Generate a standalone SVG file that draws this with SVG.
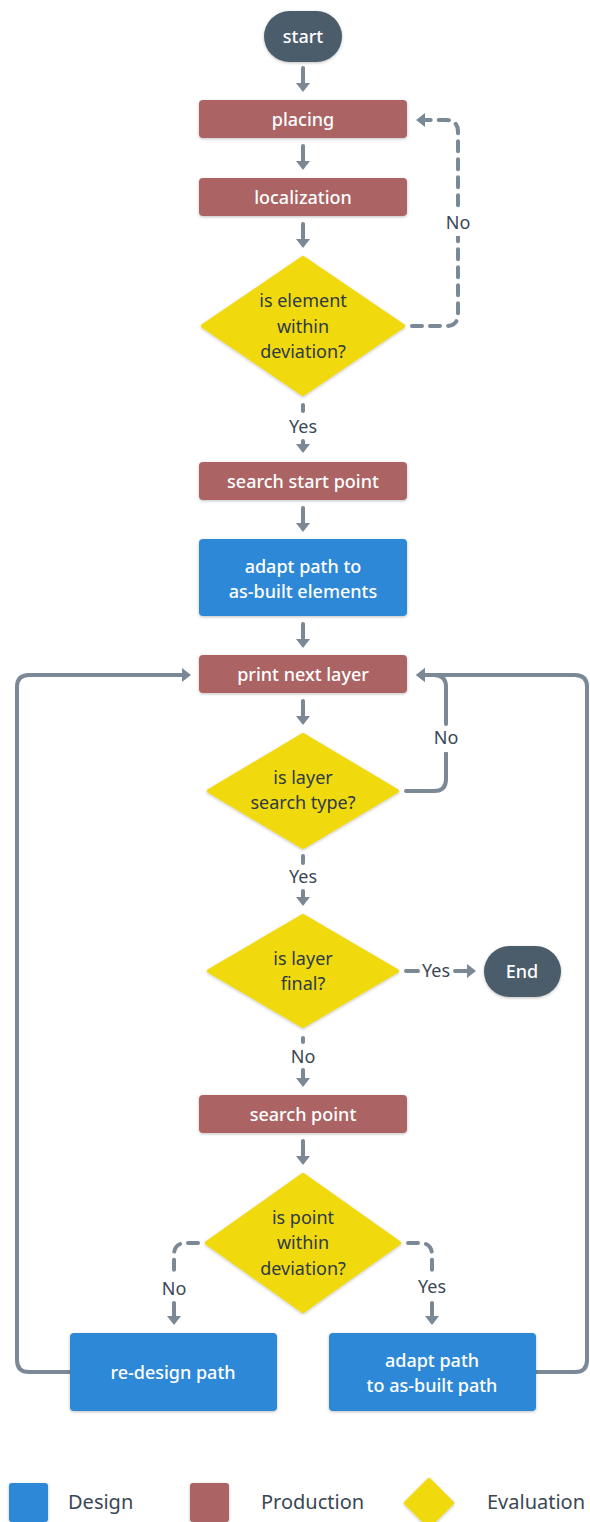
<svg xmlns="http://www.w3.org/2000/svg" width="590" height="1522" viewBox="0 0 590 1522">
<style>
.prod{fill:#ab6464}
.design{fill:#2d88d8}
.term{fill:#4b5c6b}
.eval{fill:#f0d90b;stroke:#f0d90b;stroke-width:4;stroke-linejoin:round}
.sh{filter:url(#shadow)}
.wt{font-family:"Noto Sans","Liberation Sans",sans-serif;font-size:18px;fill:#ffffff;font-weight:500;text-anchor:middle}
.dt{font-family:"Noto Sans","Liberation Sans",sans-serif;font-size:18px;fill:#2e3a46;text-anchor:middle}
.lbl{font-family:"Noto Sans","Liberation Sans",sans-serif;font-size:18px;fill:#3a4754;text-anchor:middle}
.leg{font-family:"Noto Sans","Liberation Sans",sans-serif;font-size:20px;fill:#3a4754}
.c{fill:none;stroke:#7b8896;stroke-width:4;stroke-linecap:round;stroke-linejoin:round}
.a{marker-end:url(#ah)}
.d{stroke-dasharray:10 8}
</style>
<defs>
<filter id="shadow" x="-10%" y="-10%" width="120%" height="130%">
<feDropShadow dx="0" dy="1" stdDeviation="1.5" flood-color="#000" flood-opacity="0.25"/>
</filter>
<marker id="ah" markerUnits="userSpaceOnUse" markerWidth="12" markerHeight="16" refX="5" refY="7" orient="auto" viewBox="0 0 12 16">
<path d="M0,0 L9,7 L0,14 z" fill="#7b8896"/>
</marker>
</defs>

<g id="connectors">
<path class="c a" d="M303,68 V88"/>
<path class="c a" d="M303,146 V166"/>
<path class="c a" d="M303,224 V244"/>
<path class="c a d" d="M412,326 H446 Q458,326 458,314 V132 Q458,120 446,120 H420"/>
<path class="c" d="M303,405 V411"/>
<path class="c a" d="M303,441 V449"/>
<path class="c a" d="M303,508 V528"/>
<path class="c a" d="M303,624 V644"/>
<path class="c a" d="M303,701 V721"/>
<path class="c" d="M406,791 H434 Q446,791 446,779 V753"/>
<path class="c a" d="M446,724 V687 Q446,675 434,675 H420"/>
<path class="c a" d="M536,1372 H575 Q587,1372 587,1360 V687 Q587,675 575,675 H420"/>
<path class="c a" d="M70,1372 H29 Q17,1372 17,1360 V687 Q17,675 29,675 H187"/>
<path class="c" d="M303,856 V863"/>
<path class="c a" d="M303,891 V902"/>
<path class="c" d="M406,971 H418"/>
<path class="c a" d="M455,971 H472"/>
<path class="c" d="M303,1038 V1042"/>
<path class="c a" d="M303,1070 V1083"/>
<path class="c a" d="M303,1141 V1161"/>
<path class="c d" d="M198,1243 H186 Q174,1243 174,1255 V1273"/>
<path class="c a" d="M174,1303 V1321"/>
<path class="c d" d="M408,1243 H420 Q432,1243 432,1255 V1273"/>
<path class="c a" d="M432,1303 V1321"/>
</g>

<g id="edge-labels">
<rect x="446" y="210" width="24" height="26" fill="#ffffff"/>
<text class="lbl" x="458" y="229">No</text>
<text class="lbl" x="303" y="433">Yes</text>
<rect x="434" y="726" width="24" height="26" fill="#ffffff"/>
<text class="lbl" x="446" y="744">No</text>
<text class="lbl" x="303" y="883">Yes</text>
<text class="lbl" x="436" y="977">Yes</text>
<text class="lbl" x="303" y="1063">No</text>
<text class="lbl" x="174" y="1295">No</text>
<text class="lbl" x="432" y="1293">Yes</text>
</g>

<g id="start"><rect class="term sh" x="264" y="11" width="78" height="51" rx="25.5"/><text class="wt" x="303" y="43">start</text></g>
<g id="placing"><rect class="prod sh" x="199" y="100" width="208" height="38" rx="4"/><text class="wt" x="303" y="126">placing</text></g>
<g id="localization"><rect class="prod sh" x="199" y="178" width="208" height="38" rx="4"/><text class="wt" x="303" y="204">localization</text></g>
<g id="element-deviation"><polygon class="eval sh" points="303,258 403,326 303,394 203,326"/>
<text class="dt" x="303" y="307">is element</text><text class="dt" x="303" y="333">within</text><text class="dt" x="303" y="358">deviation?</text></g>
<g id="search-start-point"><rect class="prod sh" x="199" y="462" width="208" height="38" rx="4"/><text class="wt" x="303" y="488">search start point</text></g>
<g id="adapt-elements"><rect class="design sh" x="199" y="539" width="208" height="77" rx="4"/>
<text class="wt" x="303" y="573">adapt path to</text><text class="wt" x="303" y="598">as-built elements</text></g>
<g id="print-next-layer"><rect class="prod sh" x="199" y="655" width="208" height="38" rx="4"/><text class="wt" x="303" y="681">print next layer</text></g>
<g id="layer-search-type"><polygon class="eval sh" points="303,735 397,791 303,847 209,791"/>
<text class="dt" x="303" y="784">is layer</text><text class="dt" x="303" y="809">search type?</text></g>
<g id="layer-final"><polygon class="eval sh" points="303,916 397,971 303,1026 209,971"/>
<text class="dt" x="303" y="965">is layer</text><text class="dt" x="303" y="990">final?</text></g>
<g id="end"><rect class="term sh" x="484" y="946" width="77" height="51" rx="25.5"/><text class="wt" x="522" y="978">End</text></g>
<g id="search-point"><rect class="prod sh" x="199" y="1095" width="208" height="38" rx="4"/><text class="wt" x="303" y="1121">search point</text></g>
<g id="point-deviation"><polygon class="eval sh" points="303,1175 399,1243 303,1311 207,1243"/>
<text class="dt" x="303" y="1224">is point</text><text class="dt" x="303" y="1249">within</text><text class="dt" x="303" y="1275">deviation?</text></g>
<g id="re-design-path"><rect class="design sh" x="70" y="1333" width="207" height="78" rx="4"/><text class="wt" x="173" y="1379">re-design path</text></g>
<g id="adapt-as-built-path"><rect class="design sh" x="329" y="1333" width="207" height="78" rx="4"/>
<text class="wt" x="432" y="1367">adapt path</text><text class="wt" x="432" y="1392">to as-built path</text></g>

<g id="legend">
<rect class="design sh" x="9" y="1483" width="39" height="39" rx="3"/>
<text class="leg" x="68" y="1509">Design</text>
<rect class="prod sh" x="190" y="1483" width="39" height="39" rx="3"/>
<text class="leg" x="261" y="1509">Production</text>
<polygon class="eval sh" points="429,1480 452,1503 429,1526 406,1503"/>
<text class="leg" x="487" y="1509">Evaluation</text>
</g>
</svg>
